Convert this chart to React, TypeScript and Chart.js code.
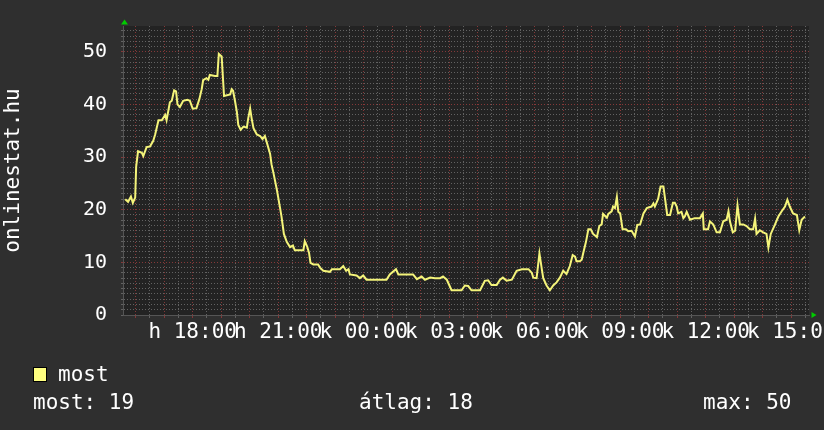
import React, { useEffect, useRef } from 'react';
import { Chart, registerables } from 'chart.js';
Chart.register(...registerables);

// minutes since 15:00 of day 1 (hétfő)
const times = [
  38, 44, 50, 54, 59, 61, 65, 73, 76, 83,
  90, 97, 101, 108, 115, 122, 125, 132, 136, 141,
  145, 148, 153, 160, 169, 174, 180, 188, 194, 199,
  202, 209, 213, 216, 227, 232, 235, 241, 246, 259,
  262, 265, 269, 273, 276, 281, 287, 294, 297, 301,
  304, 308, 315, 322, 327, 332, 336, 343, 346, 350,
  357, 364, 367, 372, 378, 385, 391, 395, 413, 416,
  421, 425, 428, 434, 444, 448, 455, 469, 473, 490,
  497, 503, 508, 511, 525, 532, 539, 546, 588, 595,
  608, 613, 644, 652, 662, 669, 680, 690, 701, 707,
  715, 725, 746, 753, 760, 767, 785, 795, 802, 809,
  820, 827, 833, 841, 852, 862, 873, 887, 894, 897,
  904, 910, 915, 918, 925, 932, 939, 946, 953, 960,
  967, 974, 980, 985, 988, 995, 999, 1002, 1008, 1013,
  1018, 1023, 1031, 1036, 1041, 1044, 1052, 1055, 1062, 1065,
  1069, 1073, 1076, 1080, 1085, 1092, 1097, 1104, 1111, 1116,
  1122, 1129, 1136, 1146, 1150, 1153, 1160, 1165, 1171, 1174,
  1179, 1185, 1191, 1195, 1199, 1202, 1209, 1213, 1216, 1220,
  1227, 1237, 1248, 1254, 1256, 1265, 1269, 1276, 1283, 1290,
  1297, 1304, 1308, 1311, 1317, 1322, 1327, 1332, 1339, 1346,
  1353, 1360, 1364, 1367, 1374, 1381, 1388, 1392, 1397, 1406,
  1413, 1420, 1427, 1432, 1437, 1444, 1452, 1457, 1462, 1469,
];

const most = [
  22, 21.5, 22.5, 21.3, 22.3, 28.2, 31.1, 30.8, 30.2, 31.9,
  32, 33.1, 34.3, 37, 37, 38, 37, 40.4, 40.7, 42.7,
  42.5, 40, 39.5, 40.7, 40.9, 40.7, 39.2, 39.3, 41, 42.9,
  44.6, 45, 44.7, 45.6, 45.4, 45.4, 49.6, 49.1, 41.6, 41.9,
  42.9, 42.6, 40.7, 38.6, 36.1, 35.2, 35.8, 35.6, 37.4, 39.2,
  37.4, 35.5, 34.3, 34.0, 33.4, 34.0, 32.8, 30.6, 28.6, 27,
  23.9, 20.3, 18.7, 15.4, 13.9, 12.9, 13.2, 12.3, 12.3, 14.0,
  13.0, 11.8, 9.9, 9.6, 9.6, 9.0, 8.4, 8.2, 8.7, 8.7,
  9.3, 8.4, 8.7, 7.7, 7.5, 7.0, 7.5, 6.7, 6.7, 7.7,
  8.7, 7.7, 7.7, 6.8, 7.3, 6.7, 7.1, 7.0, 7.0, 7.3,
  6.7, 4.7, 4.7, 5.6, 5.5, 4.7, 4.7, 6.5, 6.6, 5.7,
  5.7, 6.7, 7.1, 6.5, 6.7, 8.4, 8.7, 8.7, 8.0, 7.1,
  7.0, 11.7, 8.7, 7.0, 5.6, 4.7, 5.6, 6.2, 7.1, 8.4,
  7.8, 9.3, 11.4, 11.1, 10.2, 10.2, 10.5, 11.7, 13.9, 16.3,
  16.3, 15.4, 14.8, 16.9, 17.2, 19.2, 18.5, 19.2, 19.7, 20.6,
  20.3, 22.4, 19.6, 19.3, 16.3, 16.3, 15.9, 16.0, 14.9, 17.1,
  17.2, 19.3, 20.3, 20.6, 21.2, 20.6, 22.1, 24.4, 24.4, 22.4,
  19.0, 19.0, 21.3, 21.3, 20.6, 19.3, 19.6, 18.4, 18.7, 19.6,
  18.1, 18.4, 18.4, 19.3, 16.3, 16.3, 17.8, 17.2, 15.7, 15.7,
  17.8, 18.1, 19.7, 17.8, 15.7, 16.0, 20.8, 17.2, 17.2, 16.9,
  16.3, 16.3, 18.3, 15.4, 16.1, 15.7, 15.4, 12.8, 15.4, 17.2,
  18.7, 19.7, 20.6, 21.9, 20.6, 19.3, 19.0, 16.1, 18.1, 18.7,
];

const labelMinutes = [180, 360, 540, 720, 900, 1080, 1260, 1440];
const labelTexts = ['h 18:00', 'h 21:00', 'k 00:00', 'k 03:00', 'k 06:00', 'k 09:00', 'k 12:00', 'k 15:00'];
const yLabels = [0, 10, 20, 30, 40, 50];

const X_MIN = 33.3;
const X_MAX = 1477.5;
const Y_MAX = 54.9;

const FONT = 'DejaVu Sans Mono';
const MAJOR = '#853838';
const MINOR = '#626262';

const rrdPlugin = {
  id: 'rrdDecor',
  beforeDraw(chart: any) {
    const { ctx, chartArea } = chart;
    const { left, top, right, bottom } = chartArea;
    ctx.save();
    ctx.fillStyle = '#232323';
    ctx.fillRect(left, top, right - left, bottom - top);
    ctx.restore();
  },
  afterDraw(chart: any) {
    const { ctx, chartArea } = chart;
    const { left, top, right, bottom } = chartArea;
    ctx.save();
    ctx.fillStyle = '#00cc00';
    ctx.beginPath();
    ctx.moveTo(left + 1.5, top - 6.5);
    ctx.lineTo(left - 2, top - 1.5);
    ctx.lineTo(left + 5, top - 1.5);
    ctx.closePath();
    ctx.fill();
    ctx.beginPath();
    ctx.moveTo(right + 7.5, bottom);
    ctx.lineTo(right + 2.5, bottom - 3);
    ctx.lineTo(right + 2.5, bottom + 3);
    ctx.closePath();
    ctx.fill();
    ctx.restore();
  },
};

export default function App() {
  const ref = useRef<HTMLCanvasElement | null>(null);

  useEffect(() => {
    if (!ref.current) return;
    const data = times.map((t, i) => ({ x: t, y: most[i] }));
    const chart = new Chart(ref.current, {
      type: 'line',
      data: {
        datasets: [
          {
            label: 'most',
            data,
            borderColor: '#f4f47a',
            borderWidth: 2,
            pointRadius: 0,
            tension: 0,
            fill: false,
          },
        ],
      },
      options: {
        animation: false,
        responsive: false,
        events: [],
        layout: { padding: { left: 0, top: 14, right: 15, bottom: 0 } },
        plugins: { legend: { display: false }, tooltip: { enabled: false } },
        scales: {
          x: {
            type: 'linear',
            min: X_MIN,
            max: X_MAX,
            afterBuildTicks: (s: any) => {
              const arr = [];
              for (let m = 60; m <= 1470; m += 30) arr.push({ value: m });
              s.ticks = arr;
            },
            afterFit: (s: any) => {
              s.height = 115;
            },
            grid: {
              color: (c: any) => (c.tick && c.tick.value % 60 === 0 ? MAJOR : MINOR),
              lineWidth: 1,
              tickLength: 3,
            },
            border: { display: true, color: '#555555', dash: [1, 2] },
            ticks: {
              autoSkip: false,
              maxRotation: 0,
              minRotation: 0,
              padding: 2,
              color: '#ffffff',
              font: { family: FONT, size: 21 },
              callback: (v: any) => {
                const i = labelMinutes.indexOf(Number(v));
                return i >= 0 ? labelTexts[i] : '';
              },
            },
          },
          y: {
            type: 'linear',
            min: 0,
            max: Y_MAX,
            afterBuildTicks: (s: any) => {
              const arr = [];
              for (let v = 0; v <= 54; v += 1) arr.push({ value: v });
              s.ticks = arr;
            },
            afterFit: (s: any) => {
              s.width = 123;
            },
            grid: {
              color: (c: any) => (c.tick && c.tick.value % 10 === 0 && c.tick.value > 0 ? MAJOR : MINOR),
              lineWidth: 1,
              tickLength: 2,
            },
            border: { display: true, color: '#555555', dash: [1, 2] },
            title: {
              display: true,
              text: 'onlinestat.hu',
              color: '#ffffff',
              font: { family: FONT, size: 21 },
              padding: { top: 1, bottom: 0 },
            },
            ticks: {
              autoSkip: false,
              padding: 14,
              color: '#ffffff',
              font: { family: FONT, size: 20 },
              callback: (v: any) => (yLabels.indexOf(Number(v)) >= 0 ? String(v) : ''),
            },
          },
        },
      },
      plugins: [rrdPlugin],
    } as any);
    return () => chart.destroy();
  }, []);

  const textStyle: React.CSSProperties = {
    position: 'absolute',
    color: '#ffffff',
    fontFamily: FONT,
    fontSize: 21,
    lineHeight: '24px',
    whiteSpace: 'pre',
  };

  return (
    <div
      style={{
        position: 'absolute',
        left: 0,
        top: 0,
        width: 824,
        height: 430,
        background: '#2f2f2f',
        overflow: 'hidden',
      }}
    >
      <canvas ref={ref} width={824} height={430} style={{ position: 'absolute', left: 0, top: 0 }} />
      <div
        style={{
          position: 'absolute',
          left: 33,
          top: 367,
          width: 12,
          height: 13,
          background: '#ffff80',
          border: '1px solid #000000',
        }}
      />
      <div style={{ ...textStyle, left: 58, top: 362 }}>most</div>
      <div style={{ ...textStyle, left: 33, top: 390 }}>most: 19</div>
      <div style={{ ...textStyle, left: 359, top: 390 }}>átlag: 18</div>
      <div style={{ ...textStyle, left: 703, top: 390 }}>max: 50</div>
    </div>
  );
}
